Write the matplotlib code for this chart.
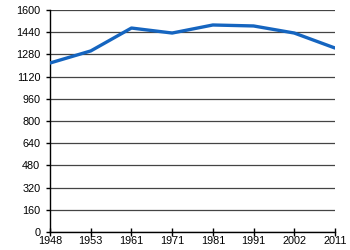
import matplotlib
matplotlib.use("Agg")
import matplotlib.pyplot as plt

years = ["1948", "1953", "1961", "1971", "1981", "1991", "2002", "2011"]
population = [1218, 1305, 1470, 1434, 1492, 1485, 1434, 1326]
yticks = list(range(0, 1601, 160))

plt.rcParams['font.family'] = ['Liberation Sans', 'DejaVu Sans']

f = plt.figure(figsize=(3.5, 2.5), dpi=100)
ax = f.add_axes([0.143, 0.072, 0.814, 0.888])

xs = range(len(years))
ax.plot(xs, population, color='#1565c0', lw=2.4, solid_capstyle='round', zorder=3)

ax.set_xlim(0, len(years) - 1)
ax.set_ylim(0, 1600)
ax.set_xticks(list(xs))
ax.set_xticklabels(years)
ax.set_yticks(yticks)
ax.yaxis.grid(True, color='#444444', lw=0.9)
ax.set_axisbelow(True)

for s in ['top', 'right']:
    ax.spines[s].set_visible(False)
for s in ['left', 'bottom']:
    ax.spines[s].set_color('black')
    ax.spines[s].set_linewidth(1.0)

ax.tick_params(axis='x', direction='inout', length=6, width=1, labelsize=7.8, pad=0, color='black')
ax.tick_params(axis='y', direction='out', length=3, width=1, labelsize=7.8, pad=4, color='black')

f.savefig("out.png", dpi=100)
